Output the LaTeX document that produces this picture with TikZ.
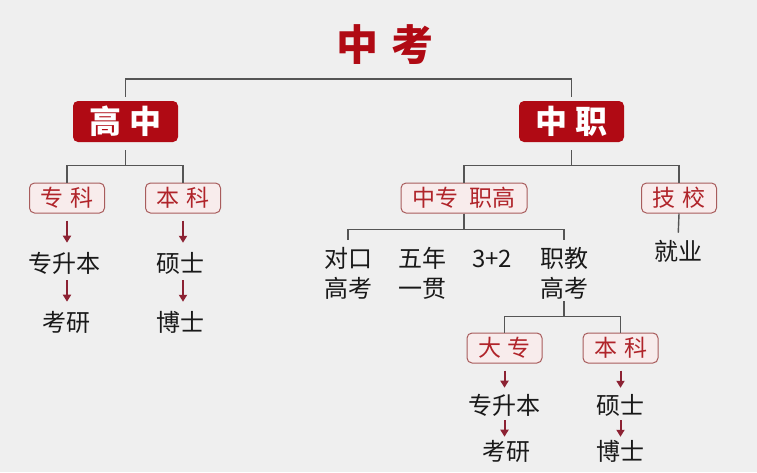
\documentclass[tikz,border=0pt]{standalone}
\usepackage{fontspec}
\setmainfont{Noto Sans CJK SC}
\usetikzlibrary{arrows.meta}
\definecolor{beijing}{HTML}{EFEFEF}
\definecolor{shenhong}{HTML}{B00A14}
\definecolor{zihong}{HTML}{B0242A}
\definecolor{kuangxian}{HTML}{A85C5C}
\definecolor{fenbai}{HTML}{F8ECEC}
\definecolor{huixian}{HTML}{555555}
\definecolor{jianhong}{HTML}{8C2233}
\tikzstyle{biaoti} = [inner sep=0pt, text=shenhong, font=\fontsize{42}{42}\selectfont\bfseries]
\tikzstyle{dakuang} = [rectangle, rounded corners=5pt, fill=shenhong, text=white, minimum width=105pt, minimum height=41pt, inner sep=0pt, font=\fontsize{32}{32}\selectfont\bfseries]
\tikzstyle{xiaokuang} = [rectangle, rounded corners=5pt, draw=kuangxian, line width=1pt, fill=fenbai, text=zihong, minimum width=75pt, minimum height=30pt, inner sep=0pt, font=\fontsize{23}{23}\selectfont]
\tikzstyle{wenzi} = [inner sep=0pt, align=center, text=black!90, font=\fontsize{24}{30}\selectfont]
\tikzstyle{xian} = [draw=huixian, line width=1.4pt]
\tikzstyle{jiantou} = [draw=jianhong, line width=2pt, -{Triangle[length=7pt,width=8pt]}]

\begin{document}
\begin{tikzpicture}[x=1pt, y=-1pt]
        \fill[beijing] (0,0) rectangle (757,472);
        \useasboundingbox (0,0) rectangle (757,472);

        \node (ZK0) [biaoti] at (385,45) {中\hspace{14pt}考};

        \node (GZ) [dakuang] at (125.5,121.5) {高\hspace{8pt}中};
        \node (ZZ) [dakuang] at (571.5,121.5) {中\hspace{8pt}职};
        \draw[xian] ([yshift=4pt]GZ.north) -- ++(0,-18) -| ([yshift=4pt]ZZ.north);

        \node (ZK) [xiaokuang] at (67,198) {专\hspace{7pt}科};
        \node (BK) [xiaokuang] at (183,198) {本\hspace{7pt}科};
        \draw[xian] ([yshift=-8pt]GZ.south) -- ++(0,15) -| (ZK.north);
        \draw[xian] ([yshift=-8pt]GZ.south) -- ++(0,15) -| (BK.north);

        \node (ZSB) [wenzi] at (64,263) {专升本};
        \node (KY) [wenzi] at (66,322) {考研};
        \node (SS) [wenzi] at (180,263) {硕士};
        \node (BS) [wenzi] at (180,322) {博士};
        \draw[jiantou, shorten <=7pt, shorten >=9pt] (ZK.south) -- (ZK.south |- ZSB.north);
        \draw[jiantou, shorten <=6pt, shorten >=9pt] (ZK.south |- ZSB.south) -- (ZK.south |- KY.north);
        \draw[jiantou, shorten <=7pt, shorten >=9pt] (BK.south) -- (BK.south |- SS.north);
        \draw[jiantou, shorten <=6pt, shorten >=9pt] (BK.south |- SS.south) -- (BK.south |- BS.north);

        \node (ZZZG) [xiaokuang, minimum width=126pt] at (464,198) {中专\hspace{12pt}职高};
        \node (JX) [xiaokuang] at (679,198) {技\hspace{7pt}校};
        \draw[xian] ([yshift=-8pt]ZZ.south) -- ++(0,15) -| (ZZZG.north);
        \draw[xian] ([yshift=-8pt]ZZ.south) -- ++(0,15) -| (JX.north);

        \node (DKGK) [wenzi] at (348,273) {对口\\高考};
        \node (WNYG) [wenzi] at (422,273) {五年\\一贯};
        \node (SJE) [wenzi, anchor=north] at ([xshift=144pt, yshift=-3pt]DKGK.north) {3+2};
        \node (ZJGK) [wenzi] at (564,273) {职教\\高考};
        \node (JY) [wenzi] at (678,251) {就业};
        \draw[xian] (ZZZG.south) -- ++(0,16) -| ([yshift=7pt]DKGK.north);
        \draw[xian] (ZZZG.south) -- ++(0,16) -| ([yshift=7pt]ZJGK.north);
        \draw[xian, shorten >=7pt] (JX.south) -- (JY.north);

        \node (DZ) [xiaokuang] at (504.5,348) {大\hspace{7pt}专};
        \node (BK2) [xiaokuang] at (620.5,348) {本\hspace{7pt}科};
        \draw[xian] ([yshift=-2pt]ZJGK.south) -- ++(0,15) -| (DZ.north);
        \draw[xian] ([yshift=-2pt]ZJGK.south) -- ++(0,15) -| (BK2.north);

        \node (ZSB2) [wenzi] at (504,405) {专升本};
        \node (KY2) [wenzi] at (506,451) {考研};
        \node (SS2) [wenzi] at (620,405) {硕士};
        \node (BS2) [wenzi] at (620,451) {博士};
        \draw[jiantou, shorten <=7pt, shorten >=6pt] (DZ.south) -- (DZ.south |- ZSB2.north);
        \draw[jiantou, shorten <=4pt, shorten >=3pt] (DZ.south |- ZSB2.south) -- (DZ.south |- KY2.north);
        \draw[jiantou, shorten <=7pt, shorten >=6pt] (BK2.south) -- (BK2.south |- SS2.north);
        \draw[jiantou, shorten <=4pt, shorten >=3pt] (BK2.south |- SS2.south) -- (BK2.south |- BS2.north);

    \end{tikzpicture}
\end{document}
